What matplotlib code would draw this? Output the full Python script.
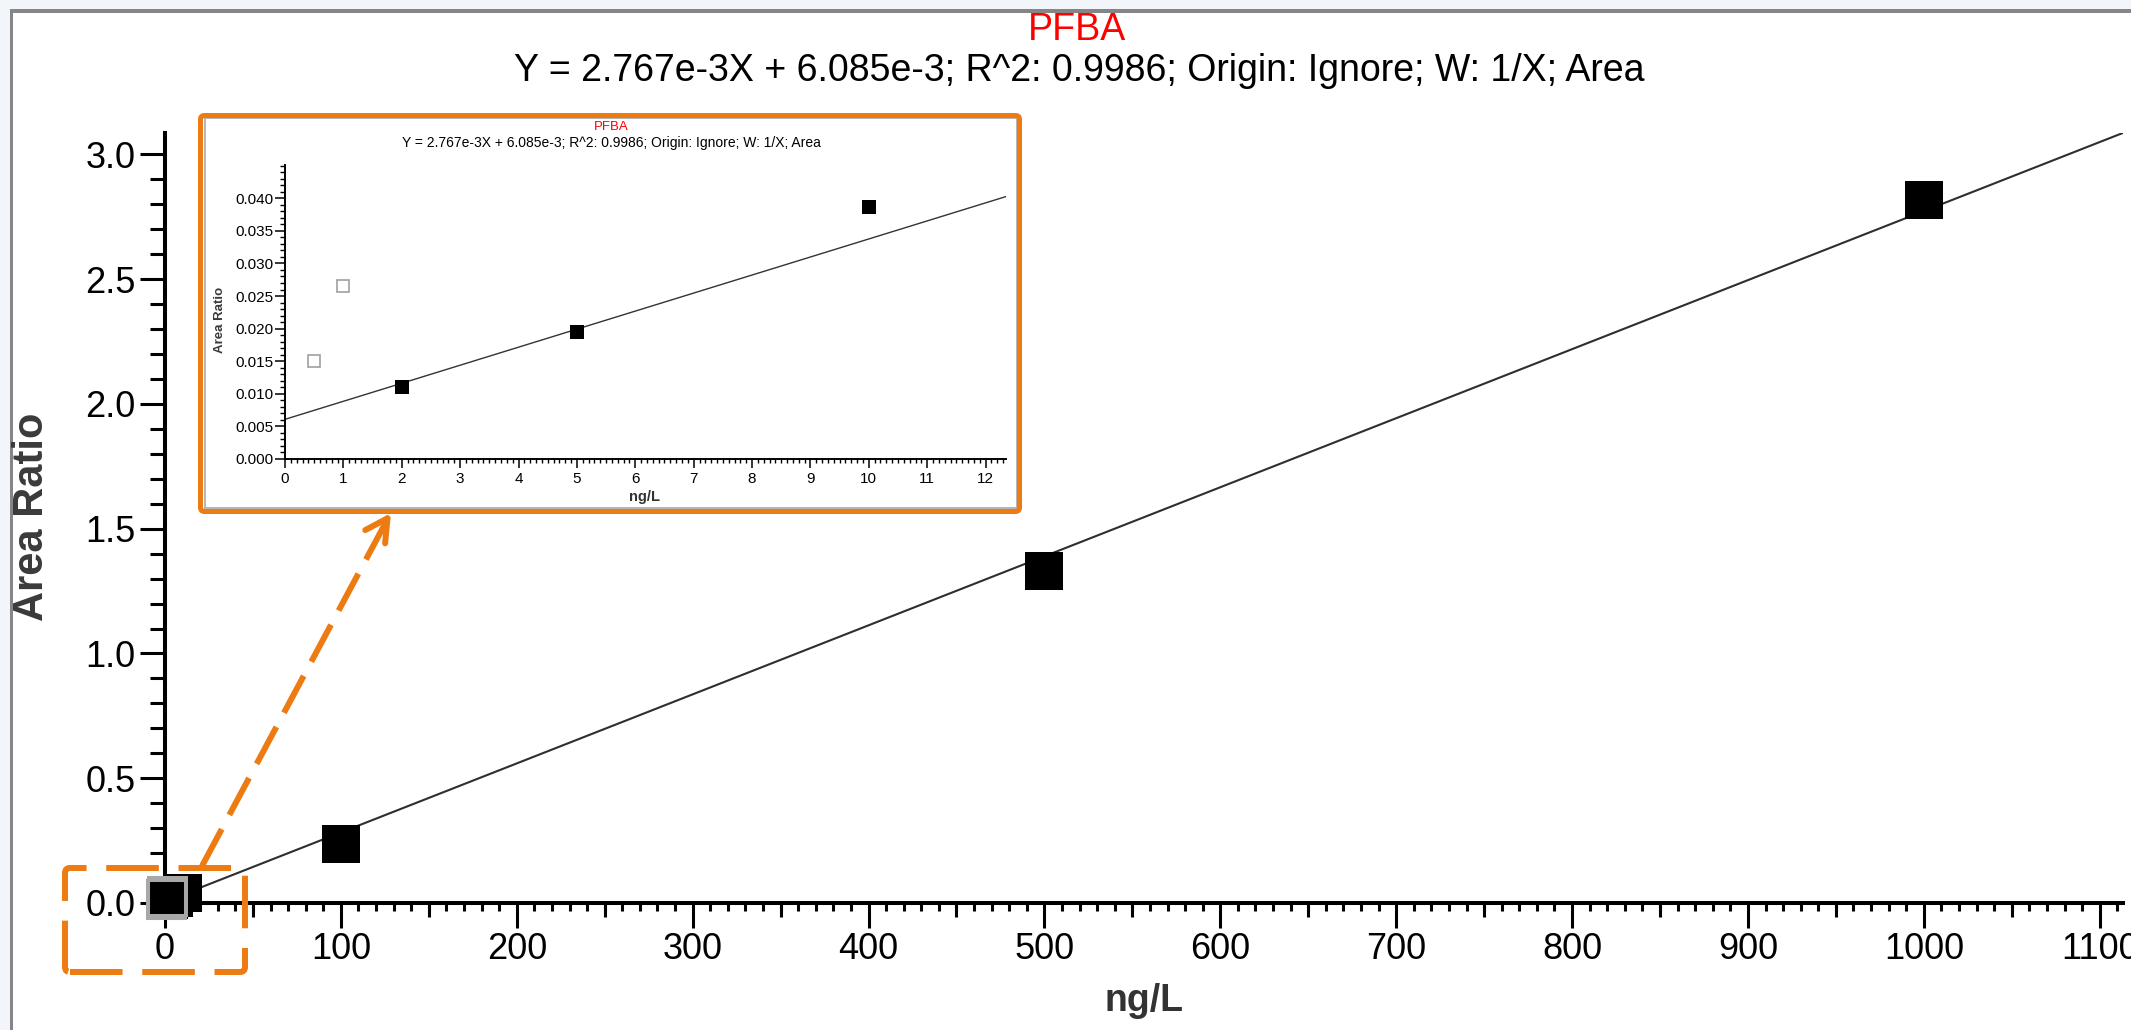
import numpy as np
import matplotlib.pyplot as plt
from matplotlib.patches import Rectangle, FancyBboxPatch, FancyArrowPatch
from matplotlib.lines import Line2D
from matplotlib.transforms import IdentityTransform
from matplotlib.ticker import MultipleLocator, FormatStrFormatter

plt.rcParams['font.family'] = ['Liberation Sans', 'DejaVu Sans']

# calibration points
conc = [0.5, 1, 2, 5, 10, 100, 500, 1000]  # ng/L
area_ratio = [0.0150, 0.0266, 0.0110, 0.0195, 0.0386, 0.2365, 1.330, 2.818]
used = [False, False, True, True, True, True, True, True]

# fit shown in the title
slope = 2.767e-3
intercept = 6.085e-3

compound = "PFBA"
equation = "Y = 2.767e-3X + 6.085e-3; R^2: 0.9986; Origin: Ignore; W: 1/X; Area"

W, H = 2131, 1030
ORANGE = '#ED7B12'

fig = plt.figure(figsize=(W / 100, H / 100), dpi=100, facecolor='#f2f6fa')
pix = IdentityTransform()


def fx(x):
    return x / W


def fy(y):
    return 1 - y / H


# window background and grey frame
fig.patches.append(Rectangle((13, 0), W - 13, H - 13, transform=pix,
                             facecolor='white', edgecolor='none', zorder=-3))
fig.patches.append(Rectangle((10, 0), 3, H - 9, transform=pix,
                             facecolor='#858585', edgecolor='none', zorder=-2))
fig.patches.append(Rectangle((10, H - 13), W - 10, 4, transform=pix,
                             facecolor='#858585', edgecolor='none', zorder=-2))

x_arr = np.array(conc)
y_arr = np.array(area_ratio)
mask = np.array(used)

# ---------------- main plot ----------------
ax = fig.add_axes([fx(165), fy(903), fx(2122.6) - fx(165), fy(133) - fy(903)])
ax.set_facecolor('none')
ax.set_xlim(0, 1113)
ax.set_ylim(0, 3.086)

xs = np.array([0, 1113])
ax.plot(xs, slope * xs + intercept, color='#2e2e2e', lw=1.5, zorder=2)
ax.plot(x_arr[mask], y_arr[mask], 's', ms=28, color='black', mew=0,
        clip_on=False, zorder=3)
ax.plot(x_arr[~mask], y_arr[~mask], 's', ms=27, mfc='none', mec='#a8a8a8',
        mew=2.2, clip_on=False, zorder=4)

for s in ['top', 'right']:
    ax.spines[s].set_visible(False)
for s in ['left', 'bottom']:
    ax.spines[s].set_linewidth(2.9)

ax.xaxis.set_major_locator(MultipleLocator(100))
ax.xaxis.set_minor_locator(MultipleLocator(10))
ax.yaxis.set_major_locator(MultipleLocator(0.5))
ax.yaxis.set_minor_locator(MultipleLocator(0.1))
ax.yaxis.set_major_formatter(FormatStrFormatter('%.1f'))
ax.tick_params(axis='x', which='major', length=18, width=2.2, labelsize=26, pad=3)
ax.tick_params(axis='x', which='minor', length=5.8, width=2.2)
ax.tick_params(axis='y', which='major', length=18, width=2.2, labelsize=26, pad=3)
ax.tick_params(axis='y', which='minor', length=10.8, width=2.2)

# medium ticks at the 50s
sec = ax.secondary_xaxis('bottom')
sec.set_xticks(np.arange(50, 1113, 100))
sec.tick_params(length=10, width=2.2, labelbottom=False)
sec.spines['bottom'].set_visible(False)

ax.set_xlabel('ng/L', fontsize=27, fontweight='bold', color='#333333')
ax.xaxis.set_label_coords(0.5, -0.104)
ax.set_ylabel('Area Ratio', fontsize=30, fontweight='bold', color='#3a3a3a')
ax.yaxis.set_label_coords(-0.0577, 0.501)

fig.text(fx(1077), fy(30), compound, color='red', fontsize=27, ha='center', va='center')
fig.text(fx(1079), fy(71), equation, color='black', fontsize=27, ha='center', va='center')

# ---------------- inset ----------------
fig.patches.append(Rectangle((205, H - 508), 812, 390, transform=pix,
                             facecolor='white', edgecolor='#b4b4b4', lw=1.4, zorder=1))
fig.patches.append(FancyBboxPatch((200.5, H - 511.5), 819, 396, transform=pix,
                                  boxstyle='round,pad=0,rounding_size=4',
                                  facecolor='none', edgecolor=ORANGE, lw=3.6, zorder=1.5))

axi = fig.add_axes([fx(285), fy(459), fx(1006) - fx(285), fy(165) - fy(459)])
axi.set_zorder(2)
axi.set_facecolor('none')
axi.set_xlim(0, 12.35)
axi.set_ylim(0, 0.0451)

xi = np.array([0, 12.35])
axi.plot(xi, slope * xi + intercept, color='#333333', lw=1.0, zorder=2)
axi.plot(x_arr[mask], y_arr[mask], 's', ms=9.5, color='black', mew=0, zorder=3)
axi.plot(x_arr[~mask], y_arr[~mask], 's', ms=9, mfc='white', mec='#a0a0a0',
         mew=1.2, zorder=3)

for s in ['top', 'right']:
    axi.spines[s].set_visible(False)
for s in ['left', 'bottom']:
    axi.spines[s].set_linewidth(1.4)

axi.xaxis.set_major_locator(MultipleLocator(1))
axi.xaxis.set_minor_locator(MultipleLocator(0.1))
axi.set_yticks(np.arange(0, 0.0401, 0.005))
axi.yaxis.set_minor_locator(MultipleLocator(0.001))
axi.yaxis.set_major_formatter(FormatStrFormatter('%.3f'))
axi.tick_params(axis='x', which='major', length=6.5, width=1.1, labelsize=11, pad=3)
axi.tick_params(axis='x', which='minor', length=3, width=1.0)
axi.tick_params(axis='y', which='major', length=7, width=1.1, labelsize=11, pad=1)
axi.tick_params(axis='y', which='minor', length=3.6, width=1.0)

axi.set_xlabel('ng/L', fontsize=10.5, fontweight='bold', color='#333333')
axi.xaxis.set_label_coords((645 - 285) / 721, (459 - 490) / 294)
axi.set_ylabel('Area Ratio', fontsize=9.5, fontweight='bold', color='#3a3a3a')
axi.yaxis.set_label_coords((226 - 285) / 721, (459 - 320) / 294)

fig.text(fx(611), fy(127), compound, color='red', fontsize=9.5, ha='center', va='center')
fig.text(fx(611), fy(143), equation, color='black', fontsize=10, ha='center', va='center')

# ---------------- zoom callout ----------------
fig.patches.append(FancyBboxPatch((65, H - 972), 180, 104, transform=pix,
                                  boxstyle='round,pad=0,rounding_size=5',
                                  facecolor='none', edgecolor=ORANGE, lw=4.3,
                                  linestyle=(0, (8.8, 3.3)), zorder=3))
fig.lines.append(Line2D([202, 386], [H - 866, H - 522], transform=pix,
                        color=ORANGE, lw=4.3, linestyle=(0, (7, 2.7)), zorder=3))
fig.patches.append(FancyArrowPatch((385, H - 522), (391, H - 513), transform=pix,
                                   arrowstyle='->,head_length=16,head_width=8.6',
                                   color=ORANGE, lw=4.3, shrinkA=0, shrinkB=0,
                                   mutation_scale=1, zorder=3))

fig.savefig('out.png', dpi=100)
